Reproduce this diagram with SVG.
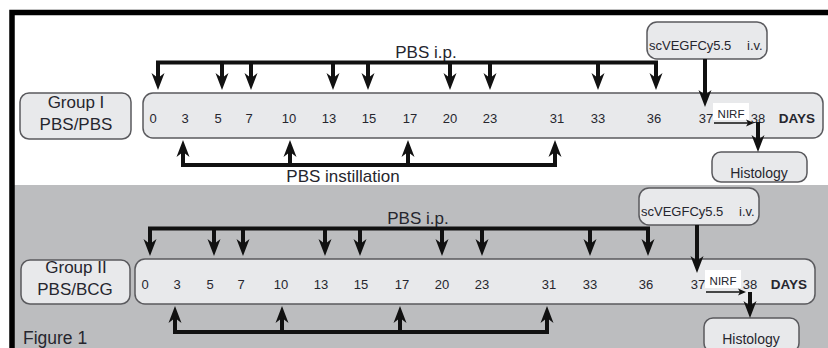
<svg xmlns="http://www.w3.org/2000/svg" xmlns:xlink="http://www.w3.org/1999/xlink" width="828" height="348" viewBox="0 0 828 348">
  <style>
    .box { fill: #e8e9eb; stroke: #5a5a5e; stroke-width: 1.5; }
    .lbl { font-family: "Liberation Sans", Arial, sans-serif; fill: #26262e; text-anchor: middle; }
    .grp { font-size: 17px; }
    .day { font-size: 13px; }
    .days { font-size: 13.5px; font-weight: bold; }
    .ann { font-size: 17px; }
    .small { font-size: 13px; }
    .hist { font-size: 14px; }
    .nirf { font-size: 11.5px; }
    .stem { fill: none; stroke: #111; stroke-width: 4; stroke-linejoin: miter; }
    .thin { fill: none; stroke: #111; stroke-width: 1.5; }
    .head { fill: #111; }
  </style>
  <defs>
    <!-- notched arrowheads, tip at origin -->
    <path id="dn" d="M0,0 L-6.5,-17 L0,-12 L6.5,-17 Z"/>
    <path id="up" d="M0,0 L-6.5,17 L0,12 L6.5,17 Z"/>
    <path id="rt" d="M0,0 L-8,-3.5 L-6,0 L-8,3.5 Z"/>
  </defs>

  <!-- background panels -->
  <rect x="0" y="0" width="828" height="348" fill="#ffffff"/>
  <rect x="12" y="185" width="816" height="163" fill="#bcbdbf"/>
  <path d="M828,12.5 H12 V348" fill="none" stroke="#000" stroke-width="5.5"/>

  <!-- ===== Group I ===== -->
  <g id="g1-label">
    <rect class="box" x="20" y="93" width="111" height="46" rx="9"/>
    <text class="lbl grp" x="76" y="108">Group I</text>
    <text class="lbl grp" x="76" y="130">PBS/PBS</text>
  </g>

  <g id="g1-timeline">
    <rect class="box" x="143" y="93" width="680" height="45" rx="10"/>
    <g class="lbl day">
      <text x="153" y="123">0</text>
      <text x="185" y="123">3</text>
      <text x="218" y="123">5</text>
      <text x="249" y="123">7</text>
      <text x="289" y="123">10</text>
      <text x="329" y="123">13</text>
      <text x="369" y="123">15</text>
      <text x="410" y="123">17</text>
      <text x="450" y="123">20</text>
      <text x="490" y="123">23</text>
      <text x="557" y="123">31</text>
      <text x="598" y="123">33</text>
      <text x="654" y="123">36</text>
      <text x="706" y="123">37</text>
      <text x="758" y="123">38</text>
    </g>
    <text class="lbl days" x="797" y="123">DAYS</text>
  </g>

  <g id="g1-nirf">
    <rect x="713" y="103" width="36" height="17" fill="#ffffff"/>
    <text class="lbl nirf" x="731" y="118">NIRF</text>
  </g>

  <g id="g1-scvegf">
    <rect class="box" x="647" y="22" width="120" height="37" rx="10"/>
    <text class="lbl small" x="649" y="50" style="text-anchor:start">scVEGFCy5.5<tspan x="747">i.v.</tspan></text>
  </g>

  <g id="g1-histology">
    <rect class="box" x="712" y="152" width="95" height="30" rx="9"/>
    <text class="lbl hist" x="759" y="178">Histology</text>
  </g>

  <g id="g1-connectors">
    <text class="lbl ann" x="426" y="58">PBS i.p.</text>
    <path class="stem" d="M158,78 V62.5 H656 V78 M222,62.5 V78 M251,62.5 V78 M333,62.5 V78 M368,62.5 V78 M450,62.5 V78 M490,62.5 V78 M598,62.5 V78"/>
    <g class="head">
      <use href="#dn" x="158" y="90"/>
      <use href="#dn" x="222" y="90"/>
      <use href="#dn" x="251" y="90"/>
      <use href="#dn" x="333" y="90"/>
      <use href="#dn" x="368" y="90"/>
      <use href="#dn" x="450" y="90"/>
      <use href="#dn" x="490" y="90"/>
      <use href="#dn" x="598" y="90"/>
      <use href="#dn" x="656" y="90"/>
    </g>
    <path class="stem" d="M183,152 V165 H555 V152 M290,165 V152 M408,165 V152"/>
    <g class="head">
      <use href="#up" x="183" y="140"/>
      <use href="#up" x="290" y="140"/>
      <use href="#up" x="408" y="140"/>
      <use href="#up" x="555" y="140"/>
    </g>
    <text class="lbl ann" x="343" y="182">PBS instillation</text>
    <path class="stem" d="M705,59 V95"/>
    <use class="head" href="#dn" x="705" y="107"/>
    <path class="thin" d="M714,123 H748"/>
    <use class="head" href="#rt" x="754" y="123"/>
    <path class="stem" d="M758,122 V140"/>
    <use class="head" href="#dn" x="758" y="152"/>
  </g>

  <!-- ===== Group II ===== -->
  <g id="g2-label">
    <rect class="box" x="21" y="260" width="109" height="44" rx="9"/>
    <text class="lbl grp" x="76" y="273">Group II</text>
    <text class="lbl grp" x="75" y="295">PBS/BCG</text>
  </g>

  <g id="g2-timeline" transform="translate(-8,166)">
    <rect class="box" x="143" y="93" width="680" height="45" rx="10"/>
    <g class="lbl day">
      <text x="153" y="123">0</text>
      <text x="185" y="123">3</text>
      <text x="218" y="123">5</text>
      <text x="249" y="123">7</text>
      <text x="289" y="123">10</text>
      <text x="329" y="123">13</text>
      <text x="369" y="123">15</text>
      <text x="410" y="123">17</text>
      <text x="450" y="123">20</text>
      <text x="490" y="123">23</text>
      <text x="557" y="123">31</text>
      <text x="598" y="123">33</text>
      <text x="654" y="123">36</text>
      <text x="706" y="123">37</text>
      <text x="758" y="123">38</text>
    </g>
    <text class="lbl days" x="797" y="123">DAYS</text>
  </g>

  <g id="g2-nirf" transform="translate(-8,166)">
    <rect x="713" y="104" width="36" height="18" fill="#ffffff"/>
    <text class="lbl nirf" x="731" y="119">NIRF</text>
  </g>

  <g id="g2-scvegf" transform="translate(-8,166)">
    <rect class="box" x="647" y="22" width="120" height="37" rx="10"/>
    <text class="lbl small" x="649" y="50" style="text-anchor:start">scVEGFCy5.5<tspan x="747">i.v.</tspan></text>
  </g>

  <g id="g2-histology" transform="translate(-8,166)">
    <rect class="box" x="712" y="152" width="95" height="34" rx="9"/>
    <text class="lbl hist" x="759" y="178">Histology</text>
  </g>

  <g id="g2-connectors" transform="translate(-8,166)">
    <text class="lbl ann" x="426" y="58">PBS i.p.</text>
    <path class="stem" d="M158,78 V62.5 H656 V78 M222,62.5 V78 M251,62.5 V78 M333,62.5 V78 M368,62.5 V78 M450,62.5 V78 M490,62.5 V78 M598,62.5 V78"/>
    <g class="head">
      <use href="#dn" x="158" y="90"/>
      <use href="#dn" x="222" y="90"/>
      <use href="#dn" x="251" y="90"/>
      <use href="#dn" x="333" y="90"/>
      <use href="#dn" x="368" y="90"/>
      <use href="#dn" x="450" y="90"/>
      <use href="#dn" x="490" y="90"/>
      <use href="#dn" x="598" y="90"/>
      <use href="#dn" x="656" y="90"/>
    </g>
    <path class="stem" d="M183,152 V166 H555 V152 M290,166 V152 M408,166 V152"/>
    <g class="head">
      <use href="#up" x="183" y="140"/>
      <use href="#up" x="290" y="140"/>
      <use href="#up" x="408" y="140"/>
      <use href="#up" x="555" y="140"/>
    </g>
    <path class="stem" d="M705,59 V95"/>
    <use class="head" href="#dn" x="705" y="107"/>
    <path class="thin" d="M714,126 H748"/>
    <use class="head" href="#rt" x="754" y="126"/>
    <path class="stem" d="M758,126 V140"/>
    <use class="head" href="#dn" x="758" y="152"/>
  </g>

  <text class="lbl" x="23" y="344" style="text-anchor:start;font-size:17.5px">Figure 1</text>
</svg>
